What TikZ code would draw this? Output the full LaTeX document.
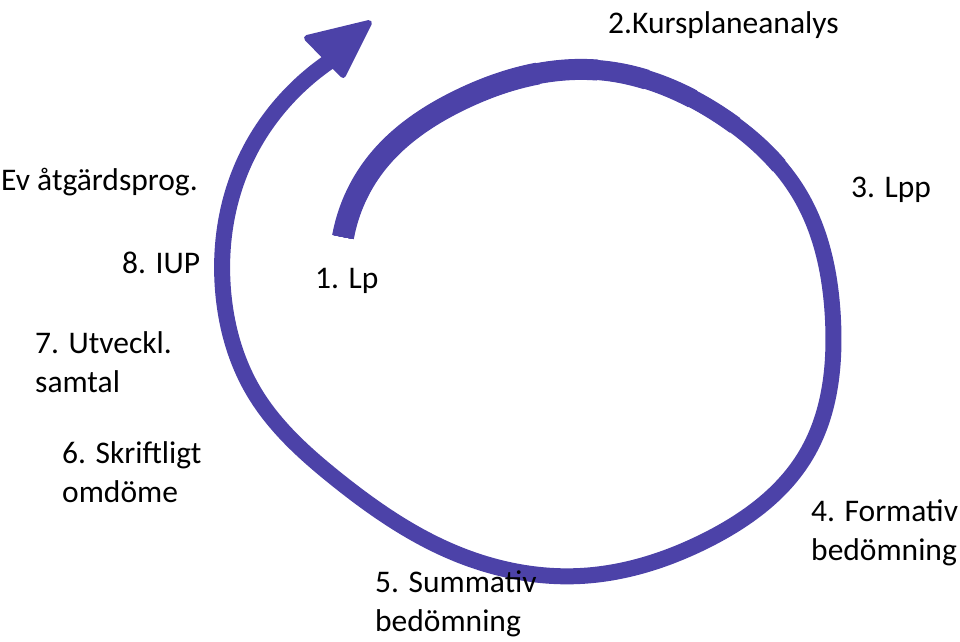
\documentclass[tikz,border=0pt]{standalone}
\usepackage{fontspec}
\setmainfont{Carlito}
\usetikzlibrary{hobby}
\definecolor{marker}{RGB}{76,66,168}
\begin{document}
\begin{tikzpicture}[
        x=1pt, y=-1pt,
        step label/.style={anchor=west, inner sep=0pt, align=left,
            font=\fontsize{31.5}{38.4}\selectfont},
        pen/.style={draw=marker, line cap=butt, line join=round},
        spiral/.pic={
            \path[use Hobby shortcut, pic actions]
                (343,237) .. (375,165) .. (460,100) .. (597,70) .. (720,115)
                .. (800,195) .. (833,320) .. (806,455) .. (705,541)
                .. (580,576) .. (450,551) .. (335,478) .. (254,392)
                .. (223,290) .. (243,165) .. (288,97) .. (333,59);
        },
    ]
    \useasboundingbox (0,0) rectangle (960,641);
    % hand drawn spiral, thicker near the start
    \coordinate (start) at (343,237);
    \coordinate (shaftend) at (333,59);
    \pic[pen, line width=16pt] {spiral};
    \foreach \w/\l in {17/540, 18/480, 19/430, 20/380, 21/330, 22/270}
        \pic[pen, line width=\w pt,
            dash pattern={on \l pt off 5000pt}] {spiral};
    % arrow head
    \coordinate (tip) at (369,23);
    \filldraw[pen, fill=marker, line width=6pt]
        (307,38) -- (tip) -- (343,75) -- cycle;
    % steps
    \node[step label] (kursplan) at (608,25) {2.Kursplaneanalys};
    \node[step label] (lpp) at (851,190) {3. Lpp};
    \node[step label] (lp) at (315,281) {1. Lp};
    \node[step label] (atgard) at (1,182) {Ev åtgärdsprog.};
    \node[step label] (iup) at (122,263) {8. IUP};
    \node[step label] (utveckl) at (35,362) {7. Utveckl.\\samtal};
    \node[step label] (skriftligt) at (62,472) {6. Skriftligt\\omdöme};
    \node[step label] (formativ) at (811,533) {4. Formativ\\bedömning};
    \node[step label] (summativ) at (375,604) {5. Summativ\\bedömning};
\end{tikzpicture}
\end{document}
